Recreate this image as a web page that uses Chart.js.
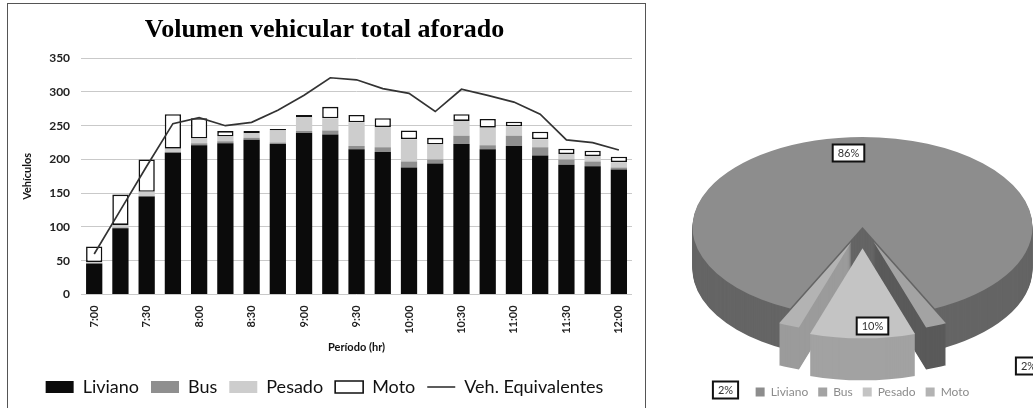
<!DOCTYPE html>
<html>
<head>
<meta charset="utf-8">
<script src="https://cdn.jsdelivr.net/npm/chart.js@4.4.1/dist/chart.umd.min.js"></script>
<style>
  body { margin: 0; background: #fff; width: 1033px; height: 408px; overflow: hidden; position: relative; }
  #marco { position: absolute; left: 7px; top: 3px; width: 637px; height: 405px; border: 1px solid #555; border-bottom: none; }
  #barras { position: absolute; left: 0; top: 0; }
  #torta { position: absolute; left: 692px; top: 38px; }
</style>
</head>
<body>
<div id="marco"><canvas id="barras" width="637" height="402"></canvas></div>
<canvas id="torta" width="341" height="370"></canvas>
<script>
// periodos de 15 minutos
const horas = ['7:00', '7:15', '7:30', '7:45', '8:00', '8:15', '8:30', '8:45', '9:00', '9:15', '9:30',
  '9:45', '10:00', '10:15', '10:30', '10:45', '11:00', '11:15', '11:30', '11:45', '12:00'];
const liviano = [46, 98, 145, 210, 221, 224, 229, 223, 239, 237, 215, 211, 188, 194, 223, 215, 220, 206, 192, 190, 185];
const bus = [0, 1, 1, 1, 3, 3, 3, 2, 3, 6, 5, 7, 9, 6, 12, 6, 15, 12, 8, 7, 3];
const pesado = [2, 4, 6, 5, 7, 7, 7, 18, 21, 18, 35, 30, 33, 22, 22, 26, 14, 12, 8, 8, 8];
const moto = [23, 45, 48, 51, 30, 8, 3, 2, 3, 17, 11, 13, 13, 10, 10, 13, 7, 11, 8, 8, 8];
const vehEquivalentes = [60, 125, 190, 253, 262, 250, 255, 273, 295, 321, 318, 305, 298, 271, 304, 295, 285, 267, 229, 225, 214];

// torta
const tipos = ['Liviano', 'Bus', 'Pesado', 'Moto'];
const participacion = [86, 2, 10, 2];

const fuenteEje = { family: 'Lato', size: 11, weight: 'bold' };

new Chart(document.getElementById('barras'), {
  type: 'bar',
  data: {
    labels: horas,
    datasets: [
      { label: 'Liviano', data: liviano, backgroundColor: '#0b0b0b' },
      { label: 'Bus', data: bus, backgroundColor: '#8f8f8f' },
      { label: 'Pesado', data: pesado, backgroundColor: '#cdcdcd' },
      { label: 'Moto', data: moto, backgroundColor: '#ffffff', borderColor: '#111', borderWidth: 1.6, borderSkipped: false },
      { type: 'line', label: 'Veh. Equivalentes', data: vehEquivalentes, borderColor: '#333', borderWidth: 1.7,
        pointRadius: 0, tension: 0, order: -1, stack: 'eq' }
    ]
  },
  options: {
    responsive: false,
    animation: false,
    datasets: { bar: { categoryPercentage: 1, barPercentage: 0.62 } },
    layout: { padding: { left: 9, right: 13, top: 9, bottom: 0 } },
    plugins: {
      tooltip: { enabled: false },
      title: {
        display: true, text: 'Volumen vehicular total aforado', color: '#000',
        font: { family: 'Liberation Serif', size: 26, weight: 'bold' },
        padding: { top: 2, bottom: 12 }
      },
      legend: {
        position: 'bottom',
        labels: {
          usePointStyle: true, pointStyleWidth: 28, boxHeight: 12, padding: 12,
          color: '#111', font: { family: 'Lato', size: 18 },
          generateLabels(chart) {
            const items = Chart.defaults.plugins.legend.labels.generateLabels(chart);
            items.forEach(it => {
              const ds = chart.data.datasets[it.datasetIndex];
              if (ds.type === 'line') {
                it.pointStyle = 'line'; it.strokeStyle = ds.borderColor; it.lineWidth = 1.6;
              } else {
                it.pointStyle = 'rect';
              }
            });
            return items.sort((a, b) => a.datasetIndex - b.datasetIndex);
          }
        }
      }
    },
    scales: {
      x: {
        stacked: true,
        grid: { display: false },
        border: { display: false },
        ticks: {
          autoSkip: false, maxRotation: 90, minRotation: 90, color: '#222', font: fuenteEje,
          callback: (v, i) => (i % 2 === 0 ? horas[i] : '')
        },
        title: { display: true, text: 'Período (hr)', color: '#111', font: fuenteEje, padding: { top: 4, bottom: 12 } }
      },
      y: {
        stacked: true, min: 0, max: 350,
        ticks: { stepSize: 50, padding: 11, color: '#222', font: { family: 'Lato', size: 12, weight: 'bold' } },
        grid: { color: '#c9c9c9', drawTicks: false },
        border: { display: false },
        title: { display: true, text: 'Vehículos', color: '#111', font: fuenteEje }
      }
    }
  }
});

// pastel en 3D: se aplasta y se le da grosor apilando copias
const tortaColores = ['#8d8d8d', '#a3a3a3', '#c4c4c4', '#b3b3b3'];
const tortaLados = ['#656565', '#5a5a5a', '#a2a2a2', '#9b9b9b'];
const separacion = [0, 30, 40, 30];
const ordenDibujo = [0, 1, 3, 2];
const aplastar = 0.53, grosor = 42, bajar = 20;
const posEtiquetas = [[-14, -74], [166, 139], [10, 99], [-137, 163]];

const torta3d = {
  id: 'torta3d',
  beforeDatasetDraw(chart, args) {
    const ctx = chart.ctx;
    const arcos = args.meta.data;
    const cx = arcos[0].x, cy = arcos[0].y;
    ctx.save();
    ctx.translate(cx, cy + bajar);
    ctx.scale(1, aplastar);
    ctx.translate(-cx, -cy);
    ordenDibujo.forEach(i => {
      const arco = arcos[i];
      const medio = (arco.startAngle + arco.endAngle) / 2;
      const dx = Math.cos(medio) * separacion[i], dy = Math.sin(medio) * separacion[i];
      const opciones = arco.options;
      for (let d = grosor; d >= 0; d--) {
        ctx.save();
        ctx.translate(dx, dy + d / aplastar);
        arco.options = Object.assign({}, opciones, { backgroundColor: d ? tortaLados[i] : tortaColores[i], borderWidth: 0 });
        arco.draw(ctx);
        ctx.restore();
      }
      arco.options = opciones;
    });
    ctx.restore();
    return false;
  },
  afterDraw(chart) {
    const ctx = chart.ctx;
    const a = chart.getDatasetMeta(0).data[0];
    const cx = a.x, cy = a.y + bajar;
    ctx.save();
    ctx.font = '11px Lato';
    ctx.textAlign = 'center';
    ctx.textBaseline = 'middle';
    participacion.forEach((v, i) => {
      const t = v + '%';
      const x = cx + posEtiquetas[i][0], y = cy + posEtiquetas[i][1];
      const w = ctx.measureText(t).width + 10, h = 17;
      ctx.fillStyle = '#fff';
      ctx.fillRect(x - w / 2, y - h / 2, w, h);
      ctx.lineWidth = 2;
      ctx.strokeStyle = '#111';
      ctx.strokeRect(x - w / 2, y - h / 2, w, h);
      ctx.fillStyle = '#333';
      ctx.fillText(t, x, y + 0.5);
    });
    ctx.restore();
  }
};

new Chart(document.getElementById('torta'), {
  type: 'pie',
  data: {
    labels: tipos,
    datasets: [{ data: participacion, backgroundColor: tortaColores, borderWidth: 0 }]
  },
  options: {
    responsive: false,
    animation: false,
    rotation: -154.8,
    radius: 170,
    plugins: {
      tooltip: { enabled: false },
      legend: {
        position: 'bottom',
        labels: { boxWidth: 9, boxHeight: 9, padding: 10, color: '#8c8c8c', font: { family: 'Lato', size: 12 } }
      }
    }
  },
  plugins: [torta3d]
});
</script>
</body>
</html>
